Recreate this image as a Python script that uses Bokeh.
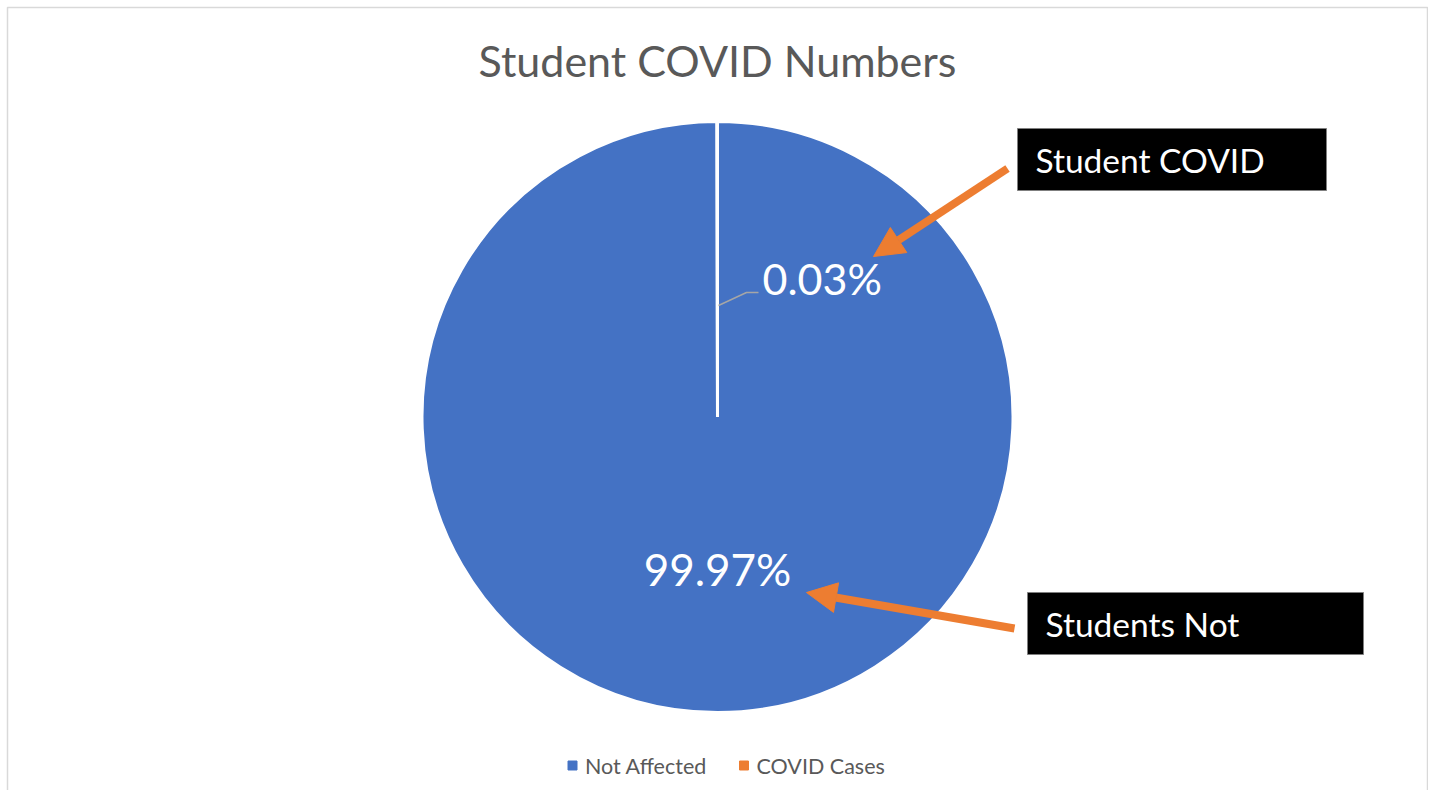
import numpy as np
from bokeh.plotting import figure
from bokeh.models import Range1d, Label, Arrow, NormalHead
from bokeh.core.properties import value
from bokeh.embed import file_html
from bokeh.resources import INLINE

# ---- data ----
categories = ["Not Affected", "COVID Cases"]
percentages = [99.97, 0.03]
colors = ["#4472C4", "#ED7D31"]
title_text = "Student COVID Numbers"
callouts = ["Student COVID", "Students Not"]

FONT = "Lato"
TXT = "#595959"
W, H = 1428, 790

p = figure(width=W, height=H, x_range=Range1d(0, W), y_range=Range1d(798 - H, 798),
           output_backend="svg", toolbar_location=None, min_border=0)
p.axis.visible = False
p.grid.visible = False
p.outline_line_color = None
p.background_fill_color = "white"
p.border_fill_color = "white"

def Y(sy):
    return 798 - sy

# chart frame
p.quad(left=7, right=1427, top=Y(7), bottom=Y(820), fill_color=None, line_color="#D9D9D9", line_width=1.5)

# title
p.add_layout(Label(x=717, y=Y(60), text=title_text, text_align="center", text_baseline="middle",
                   text_font=FONT, text_font_size="43px", text_color=TXT))

# pie
frac = np.array(percentages) / sum(percentages)
cum = np.cumsum(frac)
start = np.pi / 2 - np.concatenate([[0.0], cum[:-1]]) * 2 * np.pi
end = np.pi / 2 - cum * 2 * np.pi
cx, cy, r = 717, Y(416.5), 295.5
p.wedge(x=cx, y=cy, radius=r, radius_units="screen", start_angle=start, end_angle=end,
        direction="clock", fill_color=colors, line_color="white", line_width=3)

# data labels
lbls = [f"{v:.2f}%" for v in percentages]
p.add_layout(Label(x=717, y=Y(568), text=lbls[0], text_align="center", text_baseline="middle",
                   text_font=FONT, text_font_size="44px", text_color="white"))
p.add_layout(Label(x=762, y=Y(278), text=lbls[1], text_align="left", text_baseline="middle",
                   text_font=FONT, text_font_size="43px", text_color="white"))
p.line([718, 746, 758], [Y(305), Y(292), Y(292)], line_color="#A6A6A6", line_width=1.5)

# callout boxes
boxes = [(1017, 1326, 128, 190), (1027, 1363, 592, 654)]
for (l, rr, t, b), txt in zip(boxes, callouts):
    p.quad(left=l, right=rr, top=Y(t), bottom=Y(b), fill_color="black", line_color="#7F7F7F", line_width=1)
    p.add_layout(Label(x=l + 18, y=Y((t + b) / 2), text=txt, text_align="left", text_baseline="middle",
                       text_font=FONT, text_font_size="33.5px", text_color="white"))

# arrows
for (x0, y0, x1, y1) in [(1007, 168, 873, 256), (1014, 628, 806, 592)]:
    p.add_layout(Arrow(x_start=x0, y_start=Y(y0), x_end=x1, y_end=Y(y1),
                       line_color=colors[1], line_width=8,
                       end=NormalHead(size=30, fill_color=colors[1], line_color=colors[1])))

# legend
lx = [572, 743.5]
for x, c, name in zip(lx, colors, categories):
    p.scatter(x=[x], y=[Y(765)], marker="square", size=9, fill_color=c, line_color=c)
    p.add_layout(Label(x=x + 12.5, y=Y(765), text=name, text_align="left", text_baseline="middle",
                       text_font=FONT, text_font_size="21.5px", text_color=TXT))

open("out.html", "w").write(file_html(p, INLINE))
